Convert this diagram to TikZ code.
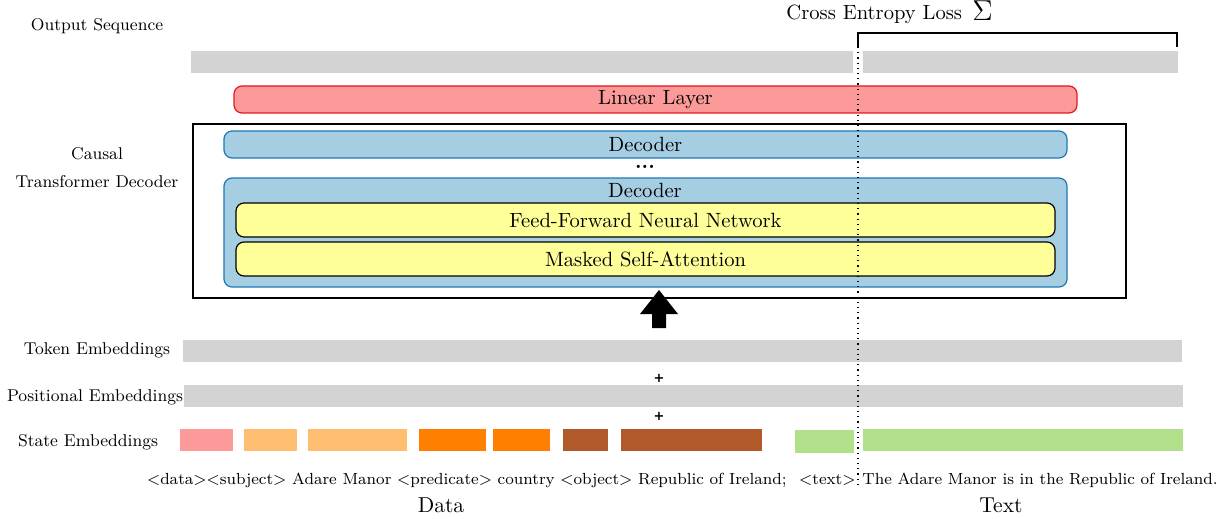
\documentclass[tikz,border=0pt]{standalone}
\usepackage{fontspec}
\newfontfamily\plusfont{DejaVu Sans}
\definecolor{gbar}{HTML}{D3D3D3}
\definecolor{rfill}{HTML}{FB9A99}
\definecolor{rdraw}{HTML}{E31A1C}
\definecolor{bfill}{HTML}{A6CEE3}
\definecolor{bdraw}{HTML}{1F78B4}
\definecolor{yfill}{HTML}{FFFF99}
\definecolor{lorange}{HTML}{FDBF6F}
\definecolor{dorange}{HTML}{FF7F00}
\definecolor{brownc}{HTML}{B15928}
\definecolor{lgreen}{HTML}{B2DF8A}
\newcommand{\mainsz}{\fontsize{10.3}{12}\selectfont}
\newcommand{\labsz}{\fontsize{8.55}{10.5}\selectfont}
\newcommand{\btxtsz}{\fontsize{8.05}{10}\selectfont}
\newcommand{\blk}[6]{\node[#1, anchor=north west, minimum width={(#4-#2)*0.5pt}, minimum height={(#5-#3)*0.5pt}] (#6) at (#2,#3) {};}
\newcommand{\tblk}[7]{\node[#1, anchor=north west, minimum width={(#4-#2)*0.5pt}, minimum height={(#5-#3)*0.5pt}] (#6) at (#2,#3) {#7};}
\tikzset{
  base/.style={inner sep=0pt, outer sep=0pt},
  bar/.style={base, fill=gbar},
  seg/.style={base, fill=#1},
  linbox/.style={base, fill=rfill, draw=rdraw, line width=0.6pt, rounded corners=4pt, font=\mainsz},
  decbox/.style={base, fill=bfill, draw=bdraw, line width=0.6pt, rounded corners=4pt, font=\mainsz},
  subbox/.style={base, fill=yfill, draw=black, line width=0.6pt, rounded corners=4pt, font=\mainsz},
  frame/.style={base, draw=black, line width=0.8pt},
  lab/.style={inner sep=0pt, font=\labsz, align=center},
  txt/.style={inner sep=0pt, font=\btxtsz},
  plus/.style={inner sep=0pt, font=\plusfont\bfseries\fontsize{6.5}{7}\selectfont},
}
\begin{document}
\begin{tikzpicture}[x=0.5pt, y=-0.5pt]
\useasboundingbox (0,0) rectangle (1231,519);
% output sequence
\node[lab] (outlab) at (97,26) {Output Sequence};
\blk{bar}{191}{51}{853}{73}{out1}
\blk{bar}{863}{51}{1178}{73}{out2}
% bracket and loss
\coordinate (bl) at (858,47);
\coordinate (br) at (1177,47);
\draw[line width=0.8pt] (bl) |- (1177,33) coordinate (btr) -- (br);
\node[inner sep=0pt, font=\mainsz, anchor=base west] (loss) at (786,20) {Cross Entropy Loss\, \raisebox{-0.5pt}{\Large$\Sigma$}};
% linear layer
\tblk{linbox}{234}{86}{1077}{113}{lin}{Linear Layer}
% causal transformer decoder frame
\blk{frame}{193}{124}{1126}{298}{ctd}
\node[lab] (ctdlab) at (97,168) {Causal\\[3.5pt]Transformer Decoder};
\tblk{decbox}{224}{131}{1067}{158}{dec1}{Decoder}
\node[inner sep=0pt, font=\mainsz\bfseries, anchor=base] (dots) at (645,169) {...};
\blk{decbox}{224}{178}{1067}{287}{dec2}
\node[inner sep=0pt, font=\mainsz] (dec2lab) at (645,190) {Decoder};
\tblk{subbox}{236}{203}{1055}{237}{ffn}{Feed-Forward Neural Network}
\tblk{subbox}{236}{242}{1055}{276}{msa}{Masked Self-Attention}
% fat arrow
\coordinate (atip) at (659,290);
\fill[black] (atip) -- (678,314) -- (666,314) -- (666,328) -- (652,328) -- (652,314) -- (640,314) -- cycle;
% embeddings
\node[lab] (toklab) at (97,350) {Token Embeddings};
\blk{bar}{183}{340}{1182}{362}{tok}
\node[plus] (p1) at (659,378) {+};
\node[lab] (poslab) at (95,397) {Positional Embeddings};
\blk{bar}{184}{385}{1183}{407}{pos}
\node[plus] (p2) at (659,416) {+};
\node[lab] (statelab) at (88,442) {State Embeddings};
\blk{seg=rfill}{180}{429}{233}{451}{s1}
\blk{seg=lorange}{244}{429}{297}{451}{s2}
\blk{seg=lorange}{308}{429}{407}{451}{s3}
\blk{seg=dorange}{419}{429}{486}{451}{s4}
\blk{seg=dorange}{493}{429}{550}{451}{s5}
\blk{seg=brownc}{563}{429}{608}{451}{s6}
\blk{seg=brownc}{621}{429}{762}{451}{s7}
\blk{seg=lgreen}{795}{430}{854}{453}{s8}
\blk{seg=lgreen}{863}{429}{1183}{451}{s9}
% dotted separator
\coordinate (dend) at (858,486);
\draw[dotted, line width=0.6pt] (bl) -- (dend);
% texts
\node[txt, anchor=base east] (datatxt) at (787,484) {$<$data$>$$<$subject$>$ Adare Manor $<$predicate$>$ country $<$object$>$ Republic of Ireland;};
\node[txt, anchor=base east] (texttok) at (856,484) {$<$text$>$};
\node[txt, anchor=base west] (texttxt) at (862,484) {The Adare Manor is in the Republic of Ireland.};
\node[inner sep=0pt, font=\fontsize{10.8}{12}\selectfont] (datalab) at (441,505) {Data};
\node[inner sep=0pt, font=\fontsize{10.8}{12}\selectfont] (textlab) at (1001,505) {Text};
\end{tikzpicture}
\end{document}
